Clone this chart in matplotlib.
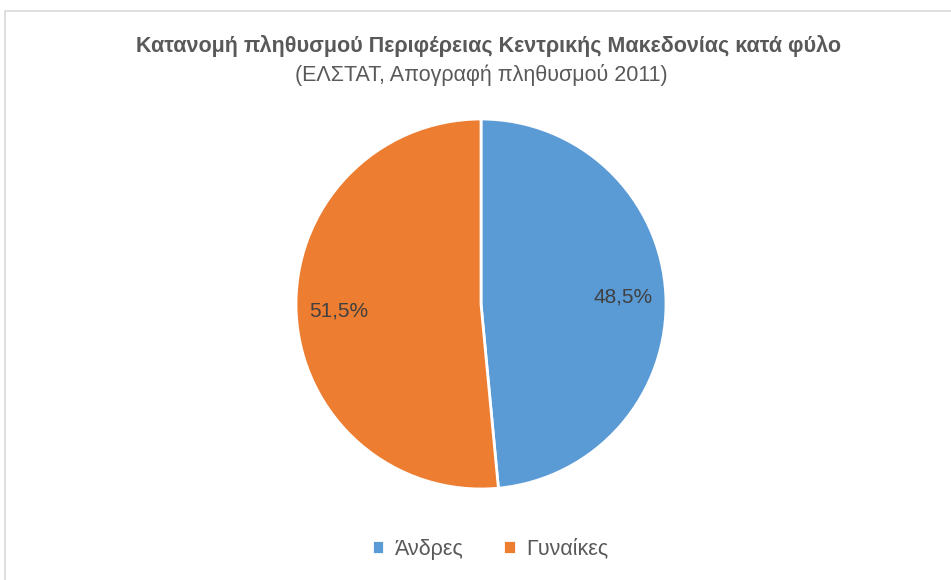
import matplotlib.pyplot as plt
from matplotlib.patches import Rectangle

labels = ['Άνδρες', 'Γυναίκες']
shares = [48.5, 51.5]
colors = ['#5B9BD5', '#ED7D31']

title = 'Κατανομή πληθυσμού Περιφέρειας Κεντρικής Μακεδονίας κατά φύλο'
subtitle = '(ΕΛΣΤΑΤ, Απογραφή πληθυσμού 2011)'

plt.rcParams['font.family'] = ['Liberation Sans', 'DejaVu Sans']
txt = '#595959'

W, H = 951, 580
fig = plt.figure(figsize=(W / 100, H / 100), dpi=100)

# light frame like the Excel chart area
fig.patches.append(Rectangle((5 / W, -0.1), 1.2, 1 - 11 / H + 0.1,
                             transform=fig.transFigure, fill=False,
                             edgecolor='#D9D9D9', linewidth=1.2))

# pie axes: centre (481, 304), radius ~185 px
cx, cy, r = 481, 304, 185
ax = fig.add_axes([(cx - r) / W, 1 - (cy + r) / H, 2 * r / W, 2 * r / H])
wedges, texts, autotexts = ax.pie(
    shares, colors=colors, startangle=90, counterclock=False,
    autopct=lambda p: f'{p:.1f}%'.replace('.', ','), pctdistance=0.77,
    wedgeprops=dict(edgecolor='white', linewidth=2),
    textprops=dict(color='#404040', fontsize=15))
ax.set_xlim(-1, 1)
ax.set_ylim(-1, 1)
ax.set_aspect('equal')

fig.text(489 / W, 1 - 46 / H, title, ha='center', va='center',
         fontsize=15.5, fontweight='bold', color=txt)
fig.text(cx / W, 1 - 75 / H, subtitle, ha='center', va='center',
         fontsize=15.5, color=txt)

fig.legend(wedges, labels, loc='center', bbox_to_anchor=(490 / W, 1 - 549 / H),
           ncol=2, frameon=False, fontsize=15.5, labelcolor=txt,
           handlelength=0.6, handleheight=0.6, handletextpad=0.5,
           columnspacing=1.8)

fig.savefig('out.png', dpi=100, facecolor='white')
